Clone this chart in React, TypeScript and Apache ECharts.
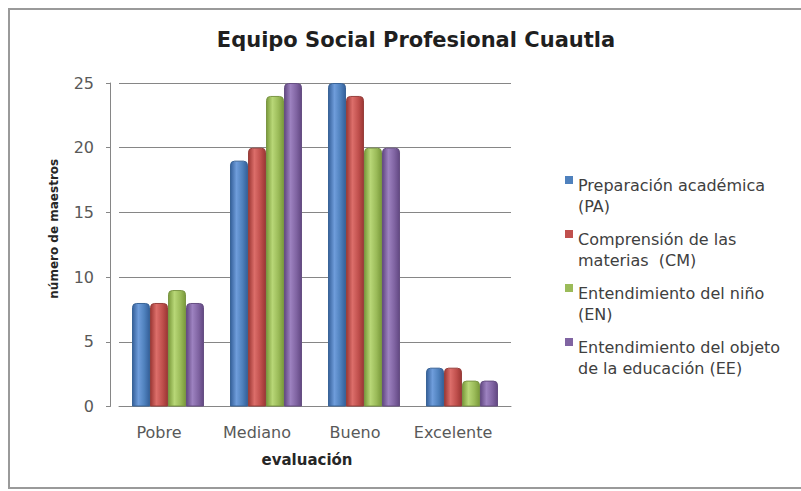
import React, { useEffect, useRef } from "react";
import * as echarts from "echarts";

const categories = ["Pobre", "Mediano", "Bueno", "Excelente"];
const seriesNames = [
  "Preparación académica\n(PA)",
  "Comprensión de las\nmaterias  (CM)",
  "Entendimiento del niño\n(EN)",
  "Entendimiento del objeto\nde la educación (EE)",
];
const valuesPA = [8, 19, 25, 3];
const valuesCM = [8, 20, 24, 3];
const valuesEN = [9, 24, 20, 2];
const valuesEE = [8, 25, 20, 2];
const yTicks = [0, 5, 10, 15, 20, 25];

const palettes = [
  { base: "#4F81BD", dark: "#35609a", light: "#6f9ddb", border: "#3a6497" },
  { base: "#C0504D", dark: "#9c3734", light: "#dc6e6a", border: "#97403d" },
  { base: "#9BBB59", dark: "#7a9a3b", light: "#b8d777", border: "#7b9645" },
  { base: "#8064A2", dark: "#624882", light: "#9d82c0", border: "#664f82" },
];

const grad = (p: { base: string; dark: string; light: string }) =>
  new echarts.graphic.LinearGradient(0, 0, 1, 0, [
    { offset: 0, color: p.dark },
    { offset: 0.35, color: p.light },
    { offset: 0.7, color: p.base },
    { offset: 1, color: p.dark },
  ]);

const legendIcon = "path://M0,0L8,0L8,8L0,8Z M0,40L0.01,40L0.01,40.01Z";

export default function App() {
  const ref = useRef<HTMLDivElement>(null);
  useEffect(() => {
    if (!ref.current) return;
    const chart = echarts.init(ref.current, null, { renderer: "svg" });
    const data = [valuesPA, valuesCM, valuesEN, valuesEE];
    const font = "'DejaVu Sans', 'Open Sans', sans-serif";
    chart.setOption({
      animation: false,
      backgroundColor: "#ffffff",
      title: {
        text: "Equipo Social Profesional Cuautla",
        left: 411,
        top: 24,
        textAlign: "center",
        textStyle: {
          fontFamily: "'DejaVu Sans', sans-serif",
          fontSize: 21,
          fontWeight: "bold",
          color: "#1f1f1f",
        },
      },
      graphic: [
        {
          type: "rect",
          shape: { x: 9, y: 9, width: 800, height: 479 },
          style: { fill: "none", stroke: "#9a9a9a", lineWidth: 2 },
          silent: true,
        },
      ],
      legend: {
        orient: "vertical",
        left: 560,
        top: 170,
        itemWidth: 8,
        itemHeight: 40,
        itemGap: 12,
        itemTextGap: 7,
        icon: legendIcon,
        textStyle: {
          fontFamily: font,
          fontSize: 16,
          color: "#404040",
          lineHeight: 21,
        },
        data: seriesNames.map((n, i) => ({
          name: n,
          itemStyle: { color: palettes[i].base, borderWidth: 0 },
        })),
      },
      grid: { left: 119, right: 290, top: 83, bottom: 84.5 },
      xAxis: {
        type: "category",
        data: categories,
        axisLine: { show: true, lineStyle: { color: "#868686" } },
        axisTick: { show: false },
        axisLabel: {
          interval: 0,
          hideOverlap: false,
          fontFamily: font,
          fontSize: 16,
          color: "#595959",
          margin: 18,
          padding: [0, 18, 0, 0],
        },
        name: "evaluación",
        nameLocation: "middle",
        nameGap: 46,
        nameTextStyle: {
          fontFamily: font,
          fontSize: 15,
          fontWeight: "bold",
          color: "#262626",
          padding: [0, 16, 0, 0],
        },
      },
      yAxis: {
        type: "value",
        min: yTicks[0],
        max: yTicks[yTicks.length - 1],
        interval: 5,
        offset: 9,
        axisLine: { show: true, lineStyle: { color: "#868686" } },
        axisTick: { show: true, length: 4, lineStyle: { color: "#868686" } },
        axisLabel: {
          fontFamily: font,
          fontSize: 16,
          color: "#595959",
          margin: 16,
          padding: [9, 0, 0, 0],
        },
        splitLine: { show: true, lineStyle: { color: "#868686", width: 1 } },
        name: "número de maestros",
        nameLocation: "middle",
        nameGap: 50,
        nameRotate: 90,
        nameTextStyle: {
          fontFamily: font,
          fontSize: 12,
          fontWeight: "bold",
          color: "#262626",
          padding: [0, 0, 0, 32],
        },
      },
      series: seriesNames.map((n, i) => ({
        name: n,
        type: "bar",
        data: data[i],
        barWidth: 18,
        barGap: "0%",
        itemStyle: {
          color: grad(palettes[i]),
          borderColor: palettes[i].border,
          borderWidth: 1,
          borderRadius: [4, 4, 0, 0],
        },
      })),
    });
    return () => chart.dispose();
  }, []);
  return (
    <div
      ref={ref}
      style={{ position: "fixed", left: 0, top: 0, width: 801, height: 491 }}
    />
  );
}
